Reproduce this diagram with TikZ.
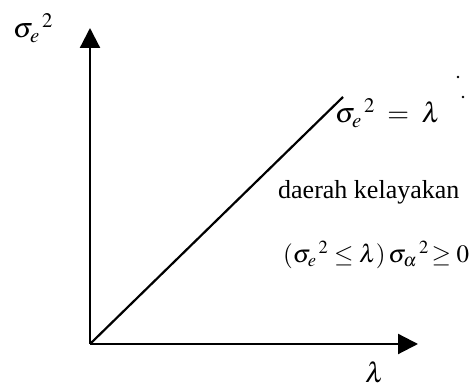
\documentclass[tikz,border=0pt]{standalone}
\usepackage{mathptmx}
\usepackage{fontspec}
\newfontfamily\regionfont{Liberation Serif}
\usepackage{tikz}
\usetikzlibrary{arrows.meta}

\begin{document}
\begin{tikzpicture}[x=1pt,y=1pt,
 axis/.style={line width=2.2pt,-{Triangle[length=20pt,width=20pt]}},
 lbl/.style={inner sep=0pt,anchor=base west,font=\fontsize{28pt}{32pt}\selectfont},
 txt/.style={inner sep=0pt,anchor=base west,font=\regionfont\fontsize{26pt}{30pt}\selectfont}]
\useasboundingbox (0,0) rectangle (474,387);
\coordinate (o) at (90,43);
\coordinate (ytip) at (90,359);
\coordinate (xtip) at (418,43);
\coordinate (lend) at (343,290);
\draw[axis] (o) -- (ytip);
\draw[axis] (o) -- (xtip);
\draw[line width=2.2pt] (o) -- (lend);
\node[lbl] (ylab) at (13,349) {${\sigma_e}^{\,2}$};
\node[lbl] (xlab) at (365,4) {$\lambda$};
\node[lbl] (eq) at (335,264) {${\sigma_e}^{\,2}\;=\;\lambda$};
\node[txt] (region) at (278,188) {daerah kelayakan};
\node[lbl,font=\fontsize{25pt}{29pt}\selectfont] (cond) at (283,124)
 {$({\sigma_e}^{\,2}\le\lambda)\,{\sigma_\alpha}^{\,2}\!\ge 0$};
\fill (458,310) circle (1.3pt) (463,290) circle (1.3pt);
\end{tikzpicture}
\end{document}
